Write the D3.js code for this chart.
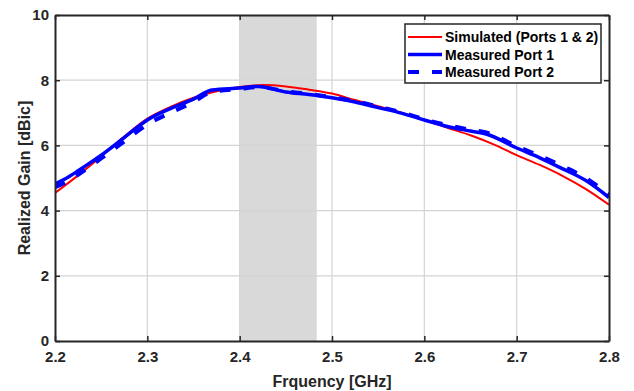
<!DOCTYPE html>
<html>
<head>
<meta charset="utf-8">
<script src="https://cdn.jsdelivr.net/npm/d3@7/dist/d3.min.js"></script>
<style>
  html, body { margin: 0; padding: 0; background: #fff; }
  svg { display: block; font-family: "Liberation Sans", Arial, sans-serif; }
</style>
</head>
<body>
<svg id="chart" width="634" height="391"></svg>
<script>
// Frequency samples (GHz)
const freqSim = [2.200, 2.225, 2.250, 2.275, 2.300, 2.325, 2.350, 2.375, 2.400, 2.425,
                 2.450, 2.475, 2.500, 2.525, 2.550, 2.575, 2.600, 2.625, 2.650, 2.675,
                 2.700, 2.725, 2.750, 2.775, 2.800];
// Simulated realized gain (dBic), ports 1 & 2
const gainSim = [4.54, 5.08, 5.66, 6.27, 6.82, 7.18, 7.46, 7.66, 7.79, 7.85,
                 7.81, 7.71, 7.59, 7.39, 7.20, 7.00, 6.78, 6.54, 6.31, 6.03,
                 5.70, 5.40, 5.06, 4.66, 4.18];

const freqMeas = [2.200, 2.215, 2.225, 2.250, 2.275, 2.300, 2.325, 2.350, 2.370, 2.400,
                  2.420, 2.450, 2.475, 2.500, 2.525, 2.550, 2.575, 2.600, 2.625, 2.650,
                  2.667, 2.700, 2.725, 2.750, 2.775, 2.800];
// Measured realized gain (dBic)
const gainPort1 = [4.82, 5.04, 5.22, 5.70, 6.24, 6.78, 7.13, 7.42, 7.70, 7.76,
                   7.81, 7.64, 7.56, 7.46, 7.33, 7.16, 6.99, 6.78, 6.58, 6.44,
                   6.35, 5.92, 5.62, 5.28, 4.92, 4.40];
const gainPort2 = [4.72, 4.92, 5.10, 5.60, 6.12, 6.64, 7.00, 7.33, 7.64, 7.73,
                   7.79, 7.66, 7.58, 7.48, 7.36, 7.19, 7.02, 6.80, 6.62, 6.48,
                   6.40, 5.98, 5.68, 5.36, 5.00, 4.48];

// ISM band highlight (GHz)
const bandStart = 2.4, bandEnd = 2.4835;

const xTicks = [2.2, 2.3, 2.4, 2.5, 2.6, 2.7, 2.8];
const yTicks = [0, 2, 4, 6, 8, 10];

const legendLabels = ["Simulated (Ports 1 & 2)", "Measured Port 1", "Measured Port 2"];

const svg = d3.select("#chart");
const W = 634, H = 391;
const margin = { top: 15, right: 25, bottom: 50, left: 55 };
const iw = W - margin.left - margin.right;
const ih = H - margin.top - margin.bottom;

const x = d3.scaleLinear().domain([2.2, 2.8]).range([0, iw]);
const y = d3.scaleLinear().domain([0, 10]).range([ih, 0]);

const g = svg.append("g").attr("transform", `translate(${margin.left},${margin.top})`);

g.append("defs").append("clipPath").attr("id", "plotClip")
  .append("rect").attr("width", iw).attr("height", ih);

// shaded band
g.append("rect")
  .attr("x", x(bandStart)).attr("y", 0)
  .attr("width", x(bandEnd) - x(bandStart)).attr("height", ih)
  .attr("fill", "#d9d9d9");

// grid
const grid = g.append("g").attr("stroke", "#d4d4d4").attr("stroke-width", 1.2);
grid.selectAll("line.vx").data(xTicks.slice(1, -1)).join("line")
  .attr("x1", d => x(d)).attr("x2", d => x(d)).attr("y1", 0).attr("y2", ih);
grid.selectAll("line.hy").data(yTicks.slice(1, -1)).join("line")
  .attr("y1", d => y(d)).attr("y2", d => y(d)).attr("x1", 0).attr("x2", iw);

// curves
const lineGen = (xs) => d3.line()
  .x((d, i) => x(xs[i]))
  .y(d => y(d))
  .curve(d3.curveMonotoneX);

const plot = g.append("g").attr("clip-path", "url(#plotClip)");
plot.append("path").datum(gainSim)
  .attr("d", lineGen(freqSim))
  .attr("fill", "none").attr("stroke", "#ff0000").attr("stroke-width", 2);
plot.append("path").datum(gainPort1)
  .attr("d", lineGen(freqMeas))
  .attr("fill", "none").attr("stroke", "#0000ff").attr("stroke-width", 3.5);
plot.append("path").datum(gainPort2)
  .attr("d", lineGen(freqMeas))
  .attr("fill", "none").attr("stroke", "#0000ff").attr("stroke-width", 4)
  .attr("stroke-dasharray", "11,13");

// axes with inward ticks
const axisColor = "#262626";
const tickLen = 5;
const xAxisB = d3.axisBottom(x).tickValues(xTicks).tickSizeInner(-tickLen).tickSizeOuter(0)
  .tickPadding(10).tickFormat(d3.format(".1f"));
const xAxisT = d3.axisTop(x).tickValues(xTicks).tickSizeInner(-tickLen).tickSizeOuter(0).tickFormat("");
const yAxisL = d3.axisLeft(y).tickValues(yTicks).tickSizeInner(-tickLen).tickSizeOuter(0)
  .tickPadding(6).tickFormat(d3.format("d"));
const yAxisR = d3.axisRight(y).tickValues(yTicks).tickSizeInner(-tickLen).tickSizeOuter(0).tickFormat("");

function styleAxis(sel) {
  sel.select(".domain").attr("stroke", axisColor).attr("stroke-width", 2);
  sel.selectAll(".tick line").attr("stroke", axisColor).attr("stroke-width", 1.5);
  sel.selectAll(".tick text").attr("fill", "#262626")
    .style("font-size", "15px").style("font-weight", "bold")
    .style("font-family", "'Liberation Sans', Arial, sans-serif");
}
g.append("g").attr("transform", `translate(0,${ih})`).call(xAxisB).call(styleAxis);
g.append("g").call(xAxisT).call(styleAxis);
g.append("g").call(yAxisL).call(styleAxis);
g.append("g").attr("transform", `translate(${iw},0)`).call(yAxisR).call(styleAxis);

// axis titles
svg.append("text")
  .attr("x", margin.left + iw / 2).attr("y", 387)
  .attr("text-anchor", "middle")
  .style("font-size", "16px").style("font-weight", "bold").attr("fill", "#262626")
  .text("Frquency [GHz]");
svg.append("text")
  .attr("transform", `translate(30,${margin.top + ih / 2}) rotate(-90)`)
  .attr("text-anchor", "middle")
  .style("font-size", "16px").style("font-weight", "bold").attr("fill", "#262626")
  .text("Realized Gain [dBic]");

// legend
const legendStyles = [
  { color: "#ff0000", width: 2, dash: null },
  { color: "#0000ff", width: 3.5, dash: null },
  { color: "#0000ff", width: 4, dash: "11,13" }
];
const lg = svg.append("g");
lg.append("rect").attr("x", 405).attr("y", 24).attr("width", 196).attr("height", 59)
  .attr("fill", "#fff").attr("stroke", "#262626").attr("stroke-width", 1.5);
legendLabels.forEach((lab, i) => {
  const cy = 37 + i * 17.5;
  const s = legendStyles[i];
  lg.append("line").attr("x1", 408).attr("x2", 442).attr("y1", cy).attr("y2", cy)
    .attr("stroke", s.color).attr("stroke-width", s.width)
    .attr("stroke-dasharray", s.dash);
  lg.append("text").attr("x", 445).attr("y", cy + 5)
    .style("font-size", "14px").style("font-weight", "bold").attr("fill", "#000")
    .text(lab);
});
</script>
</body>
</html>
